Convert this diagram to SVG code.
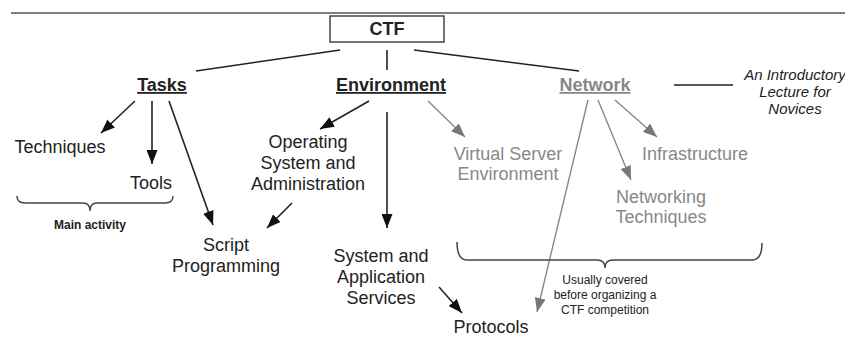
<svg xmlns="http://www.w3.org/2000/svg" width="845" height="338" viewBox="0 0 845 338">
  <defs>
    <marker id="ah" markerUnits="userSpaceOnUse" markerWidth="14" markerHeight="11" refX="14" refY="5.5" orient="auto">
      <path d="M0,0 L14,5.5 L0,11 z" fill="#111"/>
    </marker>
    <marker id="ahg" markerUnits="userSpaceOnUse" markerWidth="14" markerHeight="11" refX="14" refY="5.5" orient="auto">
      <path d="M0,0 L14,5.5 L0,11 z" fill="#777"/>
    </marker>
    <style>
      text { font-family: "Liberation Sans", Arial, sans-serif; }
      .lbl { font-size: 18px; fill: #222; text-anchor: middle; }
      .lblg { font-size: 18px; fill: #888; text-anchor: middle; }
      .head { font-size: 18px; font-weight: bold; fill: #222; text-anchor: middle; text-decoration: underline; }
      .headg { font-size: 18px; font-weight: bold; fill: #888; text-anchor: middle; text-decoration: underline; }
      .note { font-size: 12px; fill: #222; text-anchor: middle; }
      .ital { font-size: 15px; font-style: italic; fill: #222; text-anchor: middle; }
      .ln { stroke: #222; stroke-width: 1.6; fill: none; }
      .lng { stroke: #888; stroke-width: 1.4; fill: none; }
      .arr { stroke: #222; stroke-width: 1.6; fill: none; marker-end: url(#ah); }
      .arrg { stroke: #888; stroke-width: 1.4; fill: none; marker-end: url(#ahg); }
      .brace { stroke: #444; stroke-width: 1.5; fill: none; }
    </style>
  </defs>

  <!-- page rule -->
  <line x1="11" y1="13" x2="845" y2="13" stroke="#555" stroke-width="1.5"/>

  <!-- connectors -->
  <g id="connectors">
    <line class="ln" x1="340" y1="50" x2="196" y2="71"/>
    <line class="ln" x1="387" y1="50" x2="387" y2="70"/>
    <line class="ln" x1="414" y1="50" x2="579" y2="71"/>
    <line class="ln" x1="674" y1="85" x2="733" y2="85"/>

    <line class="arr" x1="135" y1="101" x2="101" y2="133"/>
    <line class="arr" x1="152" y1="101" x2="152" y2="164"/>
    <line class="arr" x1="169" y1="101" x2="213" y2="225"/>

    <line class="arr" x1="369" y1="101" x2="320" y2="129"/>
    <line class="arr" x1="387" y1="112" x2="387" y2="228"/>
    <line class="arr" x1="292" y1="203" x2="267" y2="228"/>
    <line class="arr" x1="439" y1="287" x2="462" y2="313"/>

    <line class="arrg" x1="428" y1="101" x2="465" y2="137"/>
    <line class="arrg" x1="588" y1="100" x2="537" y2="312"/>
    <line class="arrg" x1="598" y1="100" x2="631" y2="180"/>
    <line class="arrg" x1="615" y1="100" x2="657" y2="137"/>

    <!-- braces -->
    <path class="brace" d="M17,196 Q17,203 25,203 L83,203 Q90,203 90,211 Q90,203 97,203 L165,203 Q173,203 173,196"/>
    <path class="brace" d="M457,242 Q457,260 467,260 L597,260 Q605,260 605,268 Q605,260 613,260 L752,260 Q762,260 762,243"/>
  </g>

  <g id="ctf">
    <rect x="330" y="16" width="114" height="26" fill="#fff" stroke="#444" stroke-width="1.5"/>
    <text x="387" y="35" class="lbl" font-weight="bold">CTF</text>
  </g>

  <g id="tasks"><text x="162" y="91" class="head">Tasks</text></g>
  <g id="environment"><text x="391" y="91" class="head">Environment</text></g>
  <g id="network"><text x="595" y="91" class="headg">Network</text></g>

  <g id="intro">
    <text class="ital" x="795" y="80">An Introductory</text>
    <text class="ital" x="795" y="97">Lecture for</text>
    <text class="ital" x="795" y="114">Novices</text>
  </g>

  <g id="techniques"><text x="60" y="153" class="lbl">Techniques</text></g>
  <g id="tools"><text x="151" y="189" class="lbl">Tools</text></g>
  <g id="main-activity"><text x="90" y="229" class="note" font-weight="bold">Main activity</text></g>

  <g id="os-admin">
    <text x="308" y="148" class="lbl">Operating</text>
    <text x="308" y="169" class="lbl">System and</text>
    <text x="308" y="190" class="lbl">Administration</text>
  </g>

  <g id="script-programming">
    <text x="226" y="251" class="lbl">Script</text>
    <text x="226" y="272" class="lbl">Programming</text>
  </g>

  <g id="sys-app-services">
    <text x="381" y="262" class="lbl">System and</text>
    <text x="381" y="283" class="lbl">Application</text>
    <text x="381" y="304" class="lbl">Services</text>
  </g>

  <g id="protocols"><text x="491" y="333" class="lbl">Protocols</text></g>

  <g id="virtual-server">
    <text x="508" y="160" class="lblg">Virtual Server</text>
    <text x="508" y="180" class="lblg">Environment</text>
  </g>

  <g id="infrastructure"><text x="695" y="160" class="lblg">Infrastructure</text></g>

  <g id="networking-techniques">
    <text x="661" y="203" class="lblg">Networking</text>
    <text x="661" y="223" class="lblg">Techniques</text>
  </g>

  <g id="covered-note">
    <text x="605" y="284" class="note">Usually covered</text>
    <text x="605" y="299" class="note">before organizing a</text>
    <text x="605" y="314" class="note">CTF competition</text>
  </g>
</svg>
